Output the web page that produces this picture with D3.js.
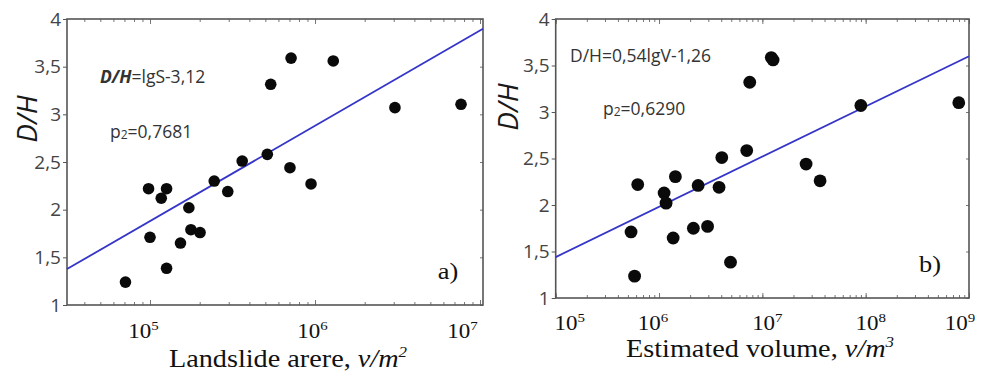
<!DOCTYPE html>
<html><head><meta charset="utf-8">
<script src="https://cdn.jsdelivr.net/npm/d3@7"></script>
<style>body{margin:0;background:#fff}svg{display:block}</style>
</head><body><svg id="c" width="987" height="385"></svg>
<script>
// ---------- data ----------
const areaS = [7.1e4, 9.8e4, 1.26e5, 1.17e5, 2.45e5, 2.96e5, 1.72e5, 1.77e5, 2.01e5, 1.0e5, 1.53e5,
  1.26e5, 3.62e5, 5.14e5, 7.05e5, 9.46e5, 7.16e5, 1.29e6, 5.39e5, 3.05e6, 7.67e6];
const areaDH = [1.24, 2.22, 2.22, 2.12, 2.30, 2.19, 2.02, 1.79, 1.76, 1.71, 1.65,
  1.385, 2.51, 2.58, 2.44, 2.27, 3.59, 3.56, 3.315, 3.07, 3.105];
const volV = [6.22e5, 1.44e6, 2.39e6, 1.12e6, 1.17e6, 5.36e5, 1.37e6, 2.15e6, 2.95e6, 5.80e5, 3.81e6,
  4.05e6, 7.06e6, 7.55e6, 1.22e7, 1.27e7, 8.98e7, 7.96e8, 2.65e7, 3.62e7, 4.92e6];
const volDH = [2.22, 2.305, 2.21, 2.13, 2.02, 1.71, 1.645, 1.75, 1.77, 1.235, 2.19,
  2.51, 2.585, 3.32, 3.585, 3.56, 3.07, 3.10, 2.44, 2.26, 1.385];
const yTicks = [1, 1.5, 2, 2.5, 3, 3.5, 4];
const yTickLabels = ["1", "1,5", "2", "2,5", "3", "3,5", "4"];
const areaDecades = [5, 6, 7];
const volDecades = [5, 6, 7, 8, 9];
const fitArea = [1, -3.12];     // D/H = 1*lgS - 3.12
const fitVol = [0.54, -1.26];   // D/H = 0.54*lgV - 1.26

// ---------- layout ----------
const panels = [
  { xs: areaS, ys: areaDH, fit: fitArea, decades: areaDecades,
    left: 67, right: 483, top: 19, bottom: 305, lgMin: 4.497, lgMax: 7.018, r: 5.8,
    labelDx: [-6.5, -2.5, -17.5], tickBase: 338, titleX: 288, titleBase: 367,
    title: ["Landslide arere, ", "v/m", "2"],
    yTitleX: 37, yTitleY: 119, tag: "a)", tagX: 448, tagY: 279,
    eq: { x: 100, y: 83, parts: [["D/H", "bold", "italic"], ["=lgS-3,12", "normal", "normal"]] },
    p2: { x: 110, y: 138, val: "=0,7681" } },
  { xs: volV, ys: volDH, fit: fitVol, decades: volDecades,
    left: 555.7, right: 969, top: 19, bottom: 298, lgMin: 5, lgMax: 9, r: 6.4,
    labelDx: [14, -6, 5, 5, -9], tickBase: 330, titleX: 760, titleBase: 357,
    title: ["Estimated volume, ", "v/m", "3"],
    yTitleX: 518, yTitleY: 107, tag: "b)", tagX: 930, tagY: 272,
    eq: { x: 570, y: 62, parts: [["D/H=0,54lgV-1,26", "normal", "normal"]] },
    p2: { x: 603, y: 115, val: "=0,6290" } }
];

const svg = d3.select("#c");
const sans = "'Open Sans', 'Noto Sans', sans-serif";
const serif = "'Liberation Serif', 'Times New Roman', serif";
const axisCol = "#555";

panels.forEach(p => {
  const x = d3.scaleLog().domain([Math.pow(10, p.lgMin), Math.pow(10, p.lgMax)]).range([p.left, p.right]);
  const y = d3.scaleLinear().domain([1, 4]).range([p.bottom, p.top]);
  const g = svg.append("g");
  const minor = x.ticks().filter(v => v >= x.domain()[0] && v <= x.domain()[1]);
  const majors = p.decades.map(d => Math.pow(10, d)).filter(v => v <= x.domain()[1] * 1.0001 && v >= x.domain()[0] * 0.9999);

  const bAx = g.append("g").attr("transform", `translate(0,${p.bottom})`)
    .call(d3.axisBottom(x).tickValues(minor).tickSize(-3).tickSizeOuter(0).tickFormat(""));
  const bAx2 = g.append("g").attr("transform", `translate(0,${p.bottom})`)
    .call(d3.axisBottom(x).tickValues(majors).tickSize(-5).tickSizeOuter(0).tickFormat(""));
  const tAx = g.append("g").attr("transform", `translate(0,${p.top})`)
    .call(d3.axisTop(x).tickValues(minor).tickSize(-3).tickSizeOuter(0).tickFormat(""));
  const tAx2 = g.append("g").attr("transform", `translate(0,${p.top})`)
    .call(d3.axisTop(x).tickValues(majors).tickSize(-5).tickSizeOuter(0).tickFormat(""));
  const rAx = g.append("g").attr("transform", `translate(${p.right},0)`)
    .call(d3.axisRight(y).tickValues(yTicks).tickSize(-3).tickSizeOuter(0).tickFormat(""));
  const lAx = g.append("g").attr("transform", `translate(${p.left},0)`)
    .call(d3.axisLeft(y).tickValues(yTicks).tickSize(4).tickSizeOuter(0).tickPadding(2)
      .tickFormat((d, i) => yTickLabels[i]));
  [bAx, bAx2, tAx, tAx2, rAx, lAx].forEach(a => {
    a.select(".domain").remove();
    a.selectAll("line").attr("stroke", "#777").attr("stroke-width", 1);
  });
  lAx.selectAll("text").attr("font-family", sans).attr("font-size", 19).attr("fill", "#444");
  lAx.selectAll("line").attr("stroke", "#555");

  g.append("rect").attr("x", p.left).attr("y", p.top)
    .attr("width", p.right - p.left).attr("height", p.bottom - p.top)
    .attr("fill", "none").attr("stroke", axisCol).attr("stroke-width", 1.6);

  const lineData = [p.lgMin, p.lgMax].map(l => ({ v: Math.pow(10, l), d: p.fit[0] * l + p.fit[1] }));
  g.append("path").datum(lineData)
    .attr("d", d3.line().x(d => x(d.v)).y(d => y(d.d)))
    .attr("stroke", "#3535c8").attr("stroke-width", 1.8).attr("fill", "none");

  g.selectAll("circle.pt").data(p.xs.map((v, i) => [v, p.ys[i]])).join("circle")
    .attr("class", "pt").attr("cx", d => x(d[0])).attr("cy", d => y(d[1]))
    .attr("r", p.r).attr("fill", "#0a0a0a");

  majors.forEach((v, i) => {
    const t = g.append("text")
      .attr("transform", `translate(${x(v) + p.labelDx[i]},${p.tickBase}) scale(1.15,1)`)
      .attr("text-anchor", "middle").attr("font-family", serif).attr("font-size", 20).attr("fill", "#111");
    t.append("tspan").text("10");
    t.append("tspan").attr("font-size", 13).attr("dy", -8).text(String(p.decades[i]));
  });

  const tt = g.append("text")
    .attr("transform", `translate(${p.titleX},${p.titleBase}) scale(1.13,1)`)
    .attr("text-anchor", "middle").attr("font-family", serif).attr("font-size", 25).attr("fill", "#111");
  tt.append("tspan").text(p.title[0]);
  tt.append("tspan").attr("font-style", "italic").text(p.title[1]);
  tt.append("tspan").attr("font-style", "italic").attr("font-size", 15).attr("dy", -10).text(p.title[2]);

  g.append("text").attr("transform", `translate(${p.yTitleX},${p.yTitleY}) rotate(-90)`)
    .attr("text-anchor", "middle").attr("font-family", sans).attr("font-style", "italic")
    .attr("font-size", 28).attr("fill", "#1a1a1a").text("D/H");

  g.append("text").attr("transform", `translate(${p.tagX},${p.tagY}) scale(1.1,1)`)
    .attr("text-anchor", "middle").attr("font-family", serif).attr("font-size", 24).attr("fill", "#111").text(p.tag);

  const eq = g.append("text").attr("x", p.eq.x).attr("y", p.eq.y)
    .attr("font-family", sans).attr("font-size", 17.5).attr("fill", "#333");
  p.eq.parts.forEach(pt => eq.append("tspan").attr("font-weight", pt[1]).attr("font-style", pt[2]).text(pt[0]));

  const p2 = g.append("text").attr("x", p.p2.x).attr("y", p.p2.y)
    .attr("font-family", sans).attr("font-size", 17.5).attr("fill", "#333");
  p2.append("tspan").text("p");
  p2.append("tspan").attr("font-size", 12).attr("dy", 1).text("2");
  p2.append("tspan").attr("dy", -1).text(p.p2.val);
});
</script>
</body></html>
